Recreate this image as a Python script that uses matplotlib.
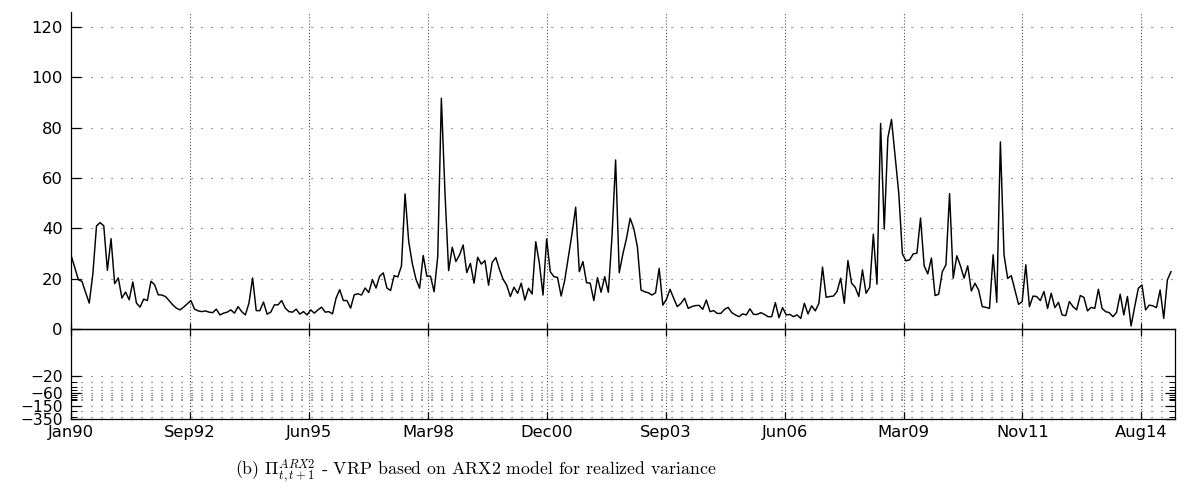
import numpy as np
import matplotlib
matplotlib.use('Agg')
import matplotlib.pyplot as plt
from matplotlib.ticker import FixedLocator, NullFormatter

# VRP series, monthly from Jan 1990
vrp_a = [29.2, 24.5, 19.6, 18.9, 14.5, 10.3, 22, 41, 42.3, 41, 23.3, 35.9, 18, 20.3,
         12.3, 14.7, 11.6, 18.7, 10.3, 8.7, 11.9, 11.3, 19, 17.6, 13.6, 13.5, 12.9,
         11.3, 9.6, 8.3, 7.6, 8.7, 10, 11.3, 7.9, 7.2, 6.9, 7.2, 6.7, 6.5, 7.9, 5.6,
         6.3, 6.7, 7.6, 6.3, 8.9, 6.9, 5.6, 10.3, 20.3, 7.3, 7.3, 10.7, 5.9, 6.7, 9.6,
         9.6, 11.3, 8.3, 6.9, 6.7, 7.9, 5.9, 6.9, 5.6, 7.6, 6.3, 7.6, 8.7, 6.7, 6.9,
         6, 12.3, 15.6, 11.3, 11.3, 8.3, 13.6, 14, 13.5, 16.3, 14.5, 19.6, 16.3, 21,
         22.3, 16.3, 15.3, 21.2, 20.7, 25]
vrp_b = [53.7, 34.8, 26, 19.8, 16.2, 29.2, 21, 21, 14.8, 28.8, 91.7, 54, 23.2, 32.5,
         26.8, 29.4, 33.4, 22.4, 26.1, 18.2, 28.5, 25.8, 27.2, 17.4, 26.5, 28.4, 23.7,
         19.8, 17.4, 12.9, 16.6, 14.2, 18.2, 11.5, 16.2, 13.9, 34.7, 26.1, 13.5, 35.8,
         22.8, 20.8, 20.5, 13.1, 19.5, 28.8, 38, 48.4, 22.8, 26.8, 18.4, 18.2, 11.3,
         20.4, 14.6, 20.8, 14.6, 36.7, 67.2, 22.4, 29.8, 36, 44, 40, 32.7, 15.5, 14.8,
         14.4, 13.5, 14.4, 24.1, 9.5, 11.8, 15.8, 12.2, 8.9, 10.2, 12.2, 8.2, 8.9, 9.3,
         9.4, 7.8, 11.5, 6.9, 7.3, 6.2, 6.2, 7.8, 8.6, 6.5, 5.6, 4.9, 6, 5.6, 8, 5.8,
         5.8, 6.5, 5.8, 4.9, 4.9, 10.5, 4.5, 8.5, 5.6, 5.8, 4.9, 5.6]
vrp_c = [4.2, 10.2, 6, 9.2, 7.2, 10.2, 24.6, 12.6, 12.9, 13.1, 14.9, 20.2, 10.2, 27.2,
         18.2, 16.6, 12.9, 23.5, 14.2, 16.6, 37.7, 17.8, 81.7, 39.7, 76, 83.3, 68.7, 54,
         29.9, 27.1, 27.5, 29.9, 30.1, 44.1, 25.1, 21.9, 28.2, 13.3, 13.8, 22.8, 25.5,
         53.8, 20.2, 29.1, 25.1, 20.2, 25.1, 15.1, 18.2, 15.5, 8.9, 8.6, 8.2, 29.5, 10.6,
         74.4, 29.5, 20.1, 21.2, 15.5, 9.8, 10.9, 25.5, 8.9, 13.1, 12.9, 11.3, 14.9, 8.2,
         14.2, 8.5, 10.6, 5.6, 5.3, 10.9, 8.9, 7.6, 13.3, 12.6, 7.2, 8.6, 8.2, 15.8, 8.2,
         6.9, 6.5, 4.9, 6.6, 13.8, 5.6, 12.9, 1.2, 8.9, 16.2, 17.5, 7.6, 9.5, 9.2, 8.5,
         15.5, 4.2, 19.5, 22.8]
vrp = vrp_a + vrp_b + vrp_c

tick_labels = ['Jan90', 'Sep92', 'Jun95', 'Mar98', 'Dec00',
               'Sep03', 'Jun06', 'Mar09', 'Nov11', 'Aug14']
upper_ticks = [0, 20, 40, 60, 80, 100, 120]
lower_ticks = [20, 60, 150, 350]
lower_labels = ['\u221220', '\u221260', '\u2212150', '\u2212350']
lower_minor = [30, 40, 50, 70, 80, 90, 100, 200, 300]

caption = r'(b) $\Pi_{t,t+1}^{ARX2}$ - VRP based on ARX2 model for realized variance'

plt.rcParams['font.family'] = ['DejaVu Sans']
plt.rcParams['mathtext.fontset'] = 'cm'

months = np.arange(len(vrp))
tick_pos = np.arange(len(tick_labels)) * 32.76
xmax = 304.1

fig = plt.figure(figsize=(11.82, 4.90), dpi=100)
left, width = 71.1 / 1182, (1175 - 71.1) / 1182
ax = fig.add_axes([left, 1 - 329 / 490, width, 317 / 490])
axb = fig.add_axes([left, 1 - 419.3 / 490, width, 90.3 / 490])

hdots = dict(color='0.3', lw=0.8, ls=(0, (1, 8)))
vdots = dict(color='0.3', lw=0.8, ls=(0, (1, 1.8)))

# upper part: linear scale
ax.plot(months, vrp, color='black', lw=1.05)
ax.set_xlim(0, xmax)
ax.set_ylim(0, 126)
ax.set_yticks(upper_ticks)
ax.set_xticks(tick_pos)
ax.set_xticklabels([])
ax.spines['top'].set_visible(False)
ax.spines['right'].set_visible(False)
for s in ax.spines.values():
    s.set_linewidth(0.9)
ax.tick_params(axis='y', direction='in', length=7, width=0.9, labelsize=11.8, pad=6)
ax.tick_params(axis='x', direction='in', length=4, width=0.9)
ax.yaxis.grid(True, **hdots)
ax.xaxis.grid(True, **vdots)
ax.set_axisbelow(True)

# lower part: log scale of the negative side
axb.set_yscale('log')
axb.set_xlim(0, xmax)
axb.set_ylim(350, 0.89)
axb.yaxis.set_major_locator(FixedLocator(lower_ticks))
axb.yaxis.set_minor_locator(FixedLocator(lower_minor))
axb.yaxis.set_minor_formatter(NullFormatter())
axb.set_yticklabels(lower_labels)
axb.set_xticks(tick_pos)
axb.set_xticklabels(tick_labels)
for s in axb.spines.values():
    s.set_linewidth(0.9)
axb.tick_params(axis='y', which='major', direction='in', length=7, width=0.9,
                right=True, labelsize=11.2, pad=6)
axb.tick_params(axis='y', which='minor', direction='in', length=4, width=0.7, right=True)
axb.tick_params(axis='x', direction='in', length=5, width=0.9, top=True,
                labelsize=11.8, pad=4)
axb.yaxis.grid(True, which='both', **hdots)
axb.xaxis.grid(True, **vdots)
axb.set_axisbelow(True)
axb.patch.set_alpha(0)

fig.text(476 / 1182, 1 - 471 / 490, caption, ha='center', va='center',
         fontsize=12.8, family=['cmr10', 'DejaVu Serif'])

fig.savefig('out.png', dpi=100)
